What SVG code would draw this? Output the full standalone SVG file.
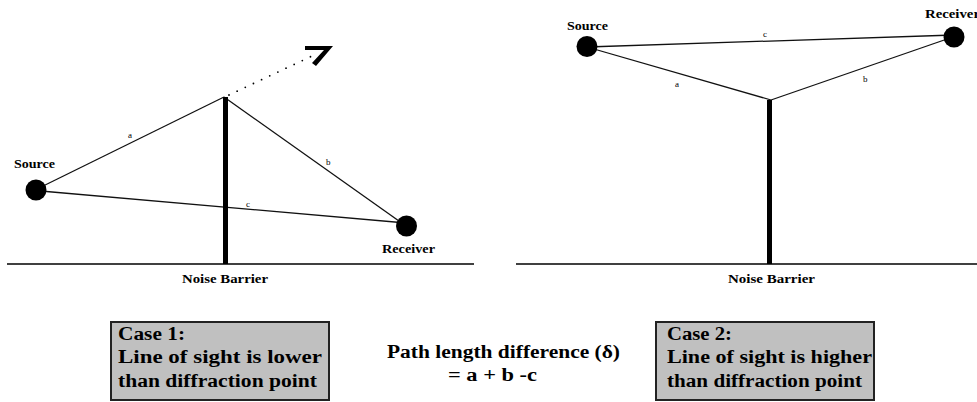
<svg xmlns="http://www.w3.org/2000/svg" width="977" height="402" viewBox="0 0 977 402">
<style>
.bg{fill:#fff}
.ground{stroke:#000;stroke-width:1.3;fill:none}
.barrier{stroke:#000;stroke-width:5;fill:none}
.ray{stroke:#111;stroke-width:1.3;fill:none}
.dot{stroke:#000;stroke-width:1.8;stroke-linecap:round;stroke-dasharray:0 9;fill:none}
.pt{fill:#000}
.lbl{font-family:"Liberation Serif","Times New Roman",serif;font-weight:bold;font-size:12px;fill:#000}
.sm{font-family:"Liberation Serif","Times New Roman",serif;font-size:9px;fill:#000}
.box{fill:#c0c0c0;stroke:#222;stroke-width:2}
.bt{font-family:"Liberation Serif","Times New Roman",serif;font-weight:bold;font-size:18px;fill:#000}
</style>
<rect class="bg" x="0" y="0" width="977" height="402"/>

<g id="ground-left"><line class="ground" x1="7" y1="264" x2="474" y2="264"/></g>
<g id="ground-right"><line class="ground" x1="516" y1="264" x2="977" y2="264"/></g>

<g id="connectors">
  <line class="ray" x1="35" y1="190" x2="224" y2="97"/>
  <line class="ray" x1="224" y1="97" x2="406" y2="226"/>
  <line class="ray" x1="35" y1="190.5" x2="406" y2="223"/>
  <line class="dot" x1="229" y1="95" x2="312" y2="56"/>
  <polygon class="pt" points="305,46 333,46 316,66 312,63 324,50 305,50"/>
  <line class="ray" x1="587" y1="47" x2="954" y2="35"/>
  <line class="ray" x1="587" y1="47" x2="771" y2="100"/>
  <line class="ray" x1="771" y1="100" x2="950" y2="38"/>
  <text class="sm" x="128" y="138">a</text>
  <text class="sm" x="326" y="165">b</text>
  <text class="sm" x="246" y="207">c</text>
  <text class="sm" x="763" y="37">c</text>
  <text class="sm" x="675" y="87">a</text>
  <text class="sm" x="863" y="82">b</text>
</g>

<g id="barrier-left">
  <line class="barrier" x1="225.5" y1="97" x2="225.5" y2="264"/>
  <text class="lbl" x="182" y="283" textLength="86" lengthAdjust="spacingAndGlyphs">Noise Barrier</text>
</g>
<g id="source-left">
  <circle class="pt" cx="36" cy="190" r="10.5"/>
  <text class="lbl" x="14" y="168" textLength="41" lengthAdjust="spacingAndGlyphs">Source</text>
</g>
<g id="receiver-left">
  <circle class="pt" cx="406.5" cy="226" r="10.5"/>
  <text class="lbl" x="382" y="253" textLength="53" lengthAdjust="spacingAndGlyphs">Receiver</text>
</g>

<g id="barrier-right">
  <line class="barrier" x1="769.5" y1="100" x2="769.5" y2="264"/>
  <text class="lbl" x="728" y="283" textLength="87" lengthAdjust="spacingAndGlyphs">Noise Barrier</text>
</g>
<g id="source-right">
  <circle class="pt" cx="587" cy="46.5" r="10.5"/>
  <text class="lbl" x="567" y="30" textLength="41" lengthAdjust="spacingAndGlyphs">Source</text>
</g>
<g id="receiver-right">
  <circle class="pt" cx="954" cy="37" r="10.5"/>
  <text class="lbl" x="925" y="18" textLength="55" lengthAdjust="spacingAndGlyphs">Receiver</text>
</g>

<g id="case1">
  <rect class="box" x="111" y="322" width="218" height="78"/>
  <text class="bt" x="118" y="340" textLength="67" lengthAdjust="spacingAndGlyphs">Case 1:</text>
  <text class="bt" x="118" y="363" textLength="204" lengthAdjust="spacingAndGlyphs">Line of sight is lower</text>
  <text class="bt" x="118" y="387" textLength="199" lengthAdjust="spacingAndGlyphs">than diffraction point</text>
</g>
<g id="formula">
  <text class="bt" x="387" y="358" textLength="233" lengthAdjust="spacingAndGlyphs">Path length difference (δ)</text>
  <text class="bt" x="448" y="381" textLength="89" lengthAdjust="spacingAndGlyphs">= a + b -c</text>
</g>
<g id="case2">
  <rect class="box" x="656" y="322" width="218" height="78"/>
  <text class="bt" x="667" y="340" textLength="65" lengthAdjust="spacingAndGlyphs">Case 2:</text>
  <text class="bt" x="667" y="363" textLength="205" lengthAdjust="spacingAndGlyphs">Line of sight is higher</text>
  <text class="bt" x="667" y="387" textLength="195" lengthAdjust="spacingAndGlyphs">than diffraction point</text>
</g>
</svg>
